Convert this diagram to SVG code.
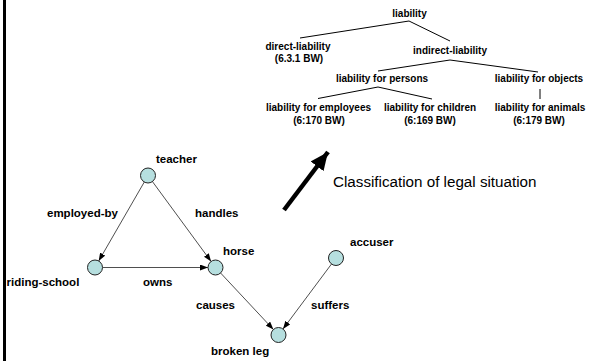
<svg xmlns="http://www.w3.org/2000/svg" width="593" height="361" viewBox="0 0 593 361">
<style>
.t{font-family:"Liberation Sans",Arial,sans-serif;font-weight:bold;font-size:10px;fill:#000;text-anchor:middle}
.g{font-family:"Liberation Sans",Arial,sans-serif;font-weight:bold;font-size:11.5px;fill:#000}
.tl{stroke:#000;stroke-width:1;fill:none}
.e{stroke:#222;stroke-width:0.8;fill:none;marker-end:url(#ah)}
.n{fill:#b6dfdf;stroke:#222;stroke-width:1}
</style>
<defs>
<marker id="ah" markerUnits="userSpaceOnUse" markerWidth="8" markerHeight="6" refX="8" refY="3" orient="auto">
<path d="M0,0 L8,3 L0,6 z" fill="#000"/>
</marker>
<marker id="big" markerUnits="userSpaceOnUse" markerWidth="20" markerHeight="16" refX="18" refY="8" orient="auto">
<path d="M0,0 L18,8 L0,16 z" fill="#000"/>
</marker>
</defs>
<rect x="3" y="0" width="3" height="361" fill="#000"/>
<g id="tree">
<g id="tree-lines">
<line class="tl" x1="409" y1="21" x2="300" y2="38"/>
<line class="tl" x1="409" y1="21" x2="450" y2="41"/>
<line class="tl" x1="450" y1="60" x2="378" y2="71"/>
<line class="tl" x1="450" y1="60" x2="538" y2="72"/>
<line class="tl" x1="378" y1="87" x2="318" y2="98.5"/>
<line class="tl" x1="378" y1="87" x2="432" y2="99"/>
<line class="tl" x1="540" y1="89" x2="540" y2="99"/>
</g>
<g id="t-liability"><text class="t" x="409.5" y="17">liability</text></g>
<g id="t-direct"><text class="t" x="298" y="50">direct-liability</text><text class="t" x="299" y="62">(6.3.1 BW)</text></g>
<g id="t-indirect"><text class="t" x="450" y="54">indirect-liability</text></g>
<g id="t-persons"><text class="t" x="382" y="82">liability for persons</text></g>
<g id="t-objects"><text class="t" x="539" y="82">liability for objects</text></g>
<g id="t-employees"><text class="t" x="318.5" y="110.5">liability for employees</text><text class="t" x="319" y="124">(6:170 BW)</text></g>
<g id="t-children"><text class="t" x="430" y="110.5">liability for children</text><text class="t" x="430" y="124">(6:169 BW)</text></g>
<g id="t-animals"><text class="t" x="540" y="110.5">liability for animals</text><text class="t" x="539" y="124">(6:179 BW)</text></g>
</g>
<g id="classification">
<line x1="284" y1="210" x2="328" y2="152" stroke="#000" stroke-width="4.5" marker-end="url(#big)"/>
<text x="333" y="187" font-family="'Liberation Sans',Arial,sans-serif" font-size="15.2" fill="#000">Classification of legal situation</text>
</g>
<g id="connectors">
<line class="e" x1="144.3" y1="182" x2="98.7" y2="261"/>
<line class="e" x1="152.4" y1="181.5" x2="211.1" y2="261.5"/>
<line class="e" x1="102.5" y1="267.5" x2="208" y2="267.5"/>
<line class="e" x1="220.6" y1="273" x2="273.4" y2="329.5"/>
<line class="e" x1="331.5" y1="264" x2="283" y2="329"/>
<text class="g" x="47" y="216.5">employed-by</text>
<text class="g" x="195" y="216.5">handles</text>
<text class="g" x="143" y="285.5">owns</text>
<text class="g" x="196" y="309">causes</text>
<text class="g" x="311" y="309">suffers</text>
</g>
<g id="teacher"><circle class="n" cx="148" cy="175.5" r="7.5"/><text class="g" x="156" y="163">teacher</text></g>
<g id="riding-school"><circle class="n" cx="95" cy="267.5" r="7.5"/><text class="g" x="6.5" y="285.5">riding-school</text></g>
<g id="horse"><circle class="n" cx="215.5" cy="267.5" r="7.5"/><text class="g" x="223" y="254.5">horse</text></g>
<g id="broken-leg"><circle class="n" cx="278.5" cy="335" r="7.5"/><text class="g" x="211" y="355">broken leg</text></g>
<g id="accuser"><circle class="n" cx="336" cy="258" r="7.5"/><text class="g" x="350" y="246">accuser</text></g>
</svg>
